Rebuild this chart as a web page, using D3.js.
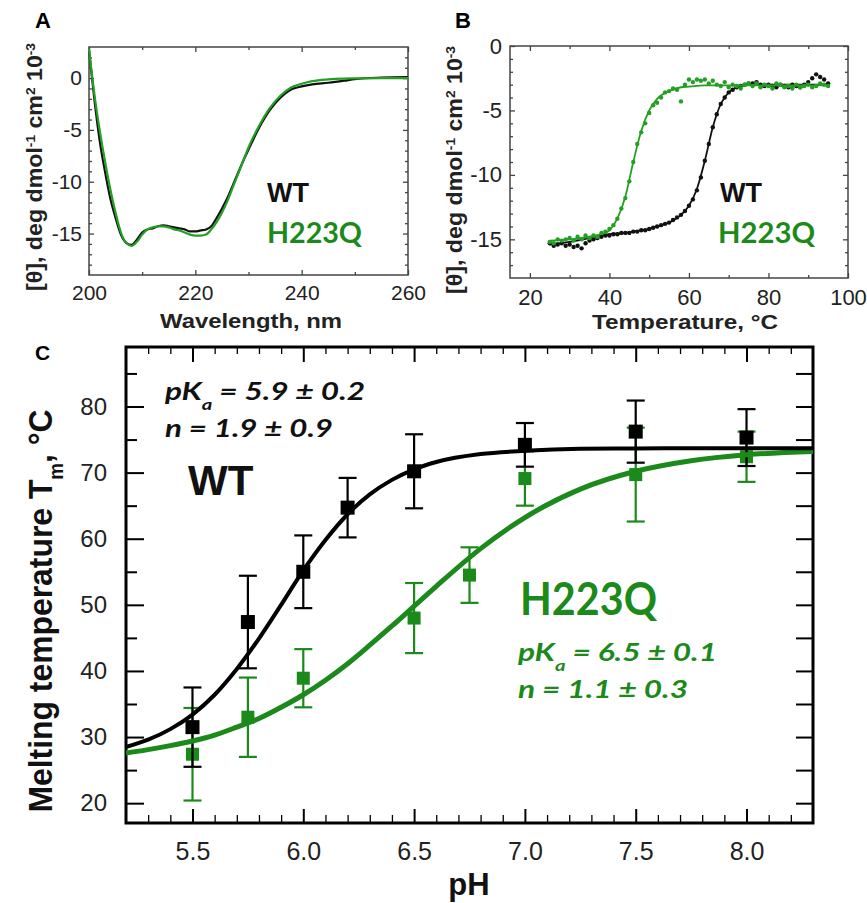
<!DOCTYPE html>
<html>
<head>
<meta charset="utf-8">
<script src="https://cdn.jsdelivr.net/npm/d3@7"></script>
<style>
body { margin: 0; background: #fff; }
svg { display: block; }
</style>
</head>
<body>
<div id="fig"></div>
<script>
// ---------- data: panel A (CD spectra) ----------
var wavelength = [200,201,202,203,204,205,206,207,208,209,210,211,212,213,214,215,216,217,218,219,220,
    221,222,223,224,225,226,227,228,229,230,232,234,236,238,240,242,245,248,250,255,260];
var cdWT = [2.7,-2.0,-6.0,-9.0,-11.6,-13.5,-15.1,-15.9,-16.1,-15.6,-14.9,-14.6,-14.5,-14.3,-14.2,-14.3,-14.4,-14.5,-14.6,-14.8,-14.8,
    -14.7,-14.6,-14.3,-13.5,-12.6,-11.6,-10.4,-9.2,-8.0,-6.9,-4.8,-3.1,-1.9,-1.1,-0.8,-0.6,-0.45,-0.25,-0.1,0.05,0.1];
var cdH223Q = [2.8,-1.5,-5.0,-8.0,-10.7,-13.0,-14.9,-15.9,-16.2,-15.8,-15.1,-14.6,-14.4,-14.3,-14.3,-14.4,-14.6,-14.7,-14.9,-15.1,-15.2,
    -15.2,-15.1,-14.6,-13.9,-13.0,-11.9,-10.6,-9.3,-8.0,-6.7,-4.6,-2.9,-1.7,-0.9,-0.55,-0.3,-0.13,-0.05,-0.03,0.0,0.0];

// ---------- data: panel B (thermal melts) ----------
var meltTemp = [25,26,27,28,29,30,31,32,33,34,35,36,37,38,39,40,41,42,43,44,45,46,47,48,49,50,51,52,53,54,
    55,56,57,58,59,60,61,62,63,64,65,66,67,68,69,70,71,72,73,74,75,76,77,78,79,80,81,82,83,84,
    85,86,87,88,89,90,91,92,93,94,95];
var meltH223Q = [-15.2,-15.3,-15.0,-15.1,-15.0,-14.9,-15.1,-14.8,-15.0,-14.7,
    -14.9,-14.7,-14.8,-14.5,-14.4,-14.2,-13.9,-13.4,-12.6,-11.8,
    -10.5,-9.0,-7.6,-6.7,-6.0,-5.2,-4.6,-4.4,-4.0,-3.6,
    -3.5,-3.3,-3.4,-4.3,-3.0,-2.6,-2.8,-2.6,-2.7,-2.6,
    -2.9,-2.7,-3.0,-3.1,-2.8,-3.2,-3.0,-3.1,-3.3,-3.0,
    -2.9,-3.1,-2.9,-3.2,-3.0,-3.1,-3.3,-2.9,-3.0,-3.2,
    -3.1,-3.3,-3.0,-3.2,-3.1,-3.0,-3.2,-3.1,-2.9,-3.0,-3.1];
var meltWT = [-15.3,-15.5,-15.4,-15.3,-15.5,-15.4,-15.6,-15.5,-15.7,-15.3,
    -15.1,-15.0,-14.9,-14.8,-14.7,-14.7,-14.6,-14.6,-14.5,-14.5,
    -14.5,-14.4,-14.4,-14.3,-14.3,-14.2,-14.1,-14.0,-13.9,-13.8,
    -13.7,-13.5,-13.3,-13.1,-12.8,-12.4,-11.9,-11.2,-10.2,-8.9,
    -7.6,-6.3,-5.3,-4.5,-4.0,-3.6,-3.4,-3.2,-3.1,-3.0,
    -2.9,-2.9,-2.8,-3.0,-3.1,-3.0,-3.1,-3.2,-3.0,-3.1,
    -3.2,-3.0,-3.1,-3.2,-3.0,-2.8,-2.5,-2.2,-2.4,-2.6,-2.9];
var fitTemp = [25,30,35,38,40,42,44,46,48,50,52,55,58,60,62,64,66,68,70,72,75,80,85,90,95];
var fitMeltH223Q = [-15.1,-15.0,-14.8,-14.6,-14.3,-13.4,-11.7,-9.0,-6.6,-5.0,-4.1,-3.5,-3.2,-3.15,-3.1,
    -3.05,-3.05,-3.05,-3.05,-3.05,-3.05,-3.05,-3.05,-3.05,-3.05];
var fitMeltWT = [-15.4,-15.2,-14.9,-14.7,-14.6,-14.55,-14.5,-14.4,-14.3,-14.2,-14.0,-13.7,-13.1,-12.4,-11.1,
    -8.9,-6.3,-4.5,-3.6,-3.2,-3.0,-3.0,-3.0,-3.0,-3.0];

// ---------- data: panel C (Tm vs pH) ----------
var phWT = [5.5, 5.75, 6.0, 6.2, 6.5, 7.0, 7.5, 8.0];
var tmWT = [31.5, 47.4, 55.0, 64.7, 70.2, 74.2, 76.2, 75.3];
var errWT = [6.0, 7.0, 5.5, 4.5, 5.6, 3.3, 4.7, 4.3];
var phH223Q = [5.5, 5.75, 6.0, 6.5, 6.75, 7.0, 7.5, 8.0];
var tmH223Q = [27.4, 33.0, 38.9, 48.0, 54.5, 69.1, 69.7, 72.4];
var errH223Q = [7.0, 6.0, 4.4, 5.3, 4.2, 4.1, 7.1, 3.8];
var fitPH = [5.2,5.3,5.4,5.5,5.6,5.7,5.8,5.9,6.0,6.1,6.2,6.3,6.4,6.5,6.6,6.8,7.0,7.25,7.5,7.75,8.0,8.3];
var fitTmWT = [28.5,29.6,31.2,33.4,36.4,40.3,44.9,50.0,55.2,59.8,63.7,66.7,68.9,70.5,71.6,72.8,73.3,73.6,73.65,73.7,73.7,73.7];
var fitTmH223Q = [27.6,28.1,28.7,29.4,30.3,31.5,32.8,34.5,36.4,38.6,41.1,43.9,46.8,49.8,52.8,58.5,63.2,67.5,70.2,71.8,72.7,73.2];

var xTicksA = [200, 220, 240, 260];
var xTicksB = [20, 40, 60, 80, 100];
var yTicksAB = [0, -5, -10, -15];
var xTicksC = [5.5, 6.0, 6.5, 7.0, 7.5, 8.0];
var yTicksC = [20, 30, 40, 50, 60, 70, 80];

var green = "#1b8a1b";
var sans = "'Liberation Sans', Arial, sans-serif";
var calib = "Lato, 'Open Sans', sans-serif";

var svg = d3.select("#fig").append("svg")
    .attr("width", 867)
    .attr("height", 903);

// draw one set of inward ticks with a d3 axis
function ticks(g, axisFn, scale, values, size, tx, ty, fmt, pad, color) {
    var ax = axisFn(scale).tickValues(values).tickSize(-size)
        .tickPadding(pad || 0).tickFormat(fmt || "");
    var sel = g.append("g")
        .attr("transform", "translate(" + tx + "," + ty + ")")
        .call(ax);
    sel.select(".domain").remove();
    sel.selectAll("line").attr("stroke", color).attr("stroke-width", size > 10 ? 2 : 1.3);
    sel.selectAll("text").attr("fill", "#222");
    return sel;
}

function minorOf(lo, hi, step, majors) {
    return d3.range(lo, hi + step / 2, step)
        .map(v => +v.toFixed(3))
        .filter(v => majors.indexOf(v) < 0);
}

function ylabelAB(x, y) {
    var t = svg.append("text")
        .attr("transform", "translate(" + x + "," + y + ") rotate(-90)")
        .attr("text-anchor", "middle")
        .attr("font-family", sans)
        .attr("font-weight", "bold")
        .attr("font-size", 22)
        .attr("fill", "#222")
        .attr("textLength", 248)
        .attr("lengthAdjust", "spacingAndGlyphs");
    t.append("tspan").text("[θ], deg dmol");
    t.append("tspan").attr("baseline-shift", "super").attr("font-size", 13).text("-1");
    t.append("tspan").text(" cm");
    t.append("tspan").attr("baseline-shift", "super").attr("font-size", 13).text("2");
    t.append("tspan").text(" 10");
    t.append("tspan").attr("baseline-shift", "super").attr("font-size", 13).text("-3");
}

// =================== panel A ===================
var xA = d3.scaleLinear().domain([200, 260]).range([89, 408]);
var yA = d3.scaleLinear().domain([-19, 3]).range([275, 47]);
var gA = svg.append("g");

var fmtInt = d => String(d);
ticks(gA, d3.axisBottom, xA, xTicksA, 5, 0, 275, fmtInt, 10, "#444")
    .attr("font-size", 21).attr("font-family", sans);
ticks(gA, d3.axisBottom, xA, [210, 230, 250], 3, 0, 275, null, 0, "#444");
ticks(gA, d3.axisTop, xA, xTicksA, 5, 0, 47, null, 0, "#444");
ticks(gA, d3.axisTop, xA, [210, 230, 250], 3, 0, 47, null, 0, "#444");
ticks(gA, d3.axisLeft, yA, yTicksAB, 5, 89, 0, fmtInt, 7, "#444")
    .attr("font-size", 21).attr("font-family", sans);
ticks(gA, d3.axisLeft, yA, minorOf(-18, 2, 1, yTicksAB), 3, 89, 0, null, 0, "#444");
ticks(gA, d3.axisRight, yA, yTicksAB, 5, 408, 0, null, 0, "#444");
ticks(gA, d3.axisRight, yA, minorOf(-18, 2, 1, yTicksAB), 3, 408, 0, null, 0, "#444");

gA.append("rect")
    .attr("x", 89).attr("y", 47)
    .attr("width", 408 - 89).attr("height", 275 - 47)
    .attr("fill", "none").attr("stroke", "#444").attr("stroke-width", 1.5);

var lineA = d3.line()
    .x((d, i) => xA(wavelength[i]))
    .y(d => yA(d))
    .curve(d3.curveMonotoneX);
gA.append("path").datum(cdWT)
    .attr("d", lineA).attr("fill", "none").attr("stroke", "#111").attr("stroke-width", 2.2);
gA.append("path").datum(cdH223Q)
    .attr("d", lineA).attr("fill", "none").attr("stroke", "#23a023").attr("stroke-width", 2.2);

gA.append("text").attr("x", 267).attr("y", 202)
    .attr("font-family", sans).attr("font-weight", "bold").attr("font-size", 27)
    .attr("fill", "#111").text("WT");
gA.append("text").attr("x", 267).attr("y", 243)
    .attr("font-family", calib).attr("font-weight", "bold").attr("font-size", 28)
    .attr("textLength", 95).attr("lengthAdjust", "spacingAndGlyphs")
    .attr("fill", green).text("H223Q");

gA.append("text").attr("x", 251).attr("y", 328)
    .attr("text-anchor", "middle")
    .attr("font-family", sans).attr("font-weight", "bold").attr("font-size", 21)
    .attr("textLength", 182).attr("lengthAdjust", "spacingAndGlyphs")
    .attr("fill", "#222").text("Wavelength, nm");
ylabelAB(42, 167);

svg.append("text").attr("x", 35).attr("y", 28)
    .attr("font-family", sans).attr("font-weight", "bold").attr("font-size", 22).text("A");

// =================== panel B ===================
var xB = d3.scaleLinear().domain([15, 100]).range([510, 848]);
var yB = d3.scaleLinear().domain([-18, 0]).range([278, 46]);
var gB = svg.append("g");

ticks(gB, d3.axisBottom, xB, xTicksB, 5, 0, 278, fmtInt, 11, "#444")
    .attr("font-size", 22).attr("font-family", sans);
ticks(gB, d3.axisBottom, xB, [30, 50, 70, 90], 3, 0, 278, null, 0, "#444");
ticks(gB, d3.axisTop, xB, xTicksB, 5, 0, 46, null, 0, "#444");
ticks(gB, d3.axisTop, xB, [30, 50, 70, 90], 3, 0, 46, null, 0, "#444");
ticks(gB, d3.axisLeft, yB, yTicksAB, 5, 510, 0, fmtInt, 8, "#444")
    .attr("font-size", 22).attr("font-family", sans);
ticks(gB, d3.axisLeft, yB, minorOf(-17, -1, 1, yTicksAB), 3, 510, 0, null, 0, "#444");
ticks(gB, d3.axisRight, yB, yTicksAB, 5, 848, 0, null, 0, "#444");
ticks(gB, d3.axisRight, yB, minorOf(-17, -1, 1, yTicksAB), 3, 848, 0, null, 0, "#444");

gB.append("rect")
    .attr("x", 510).attr("y", 46)
    .attr("width", 848 - 510).attr("height", 278 - 46)
    .attr("fill", "none").attr("stroke", "#444").attr("stroke-width", 1.5);

var fitLineB = d3.line()
    .x((d, i) => xB(fitTemp[i]))
    .y(d => yB(d))
    .curve(d3.curveMonotoneX);

gB.append("g").selectAll("circle")
    .data(meltWT)
    .enter().append("circle")
    .attr("cx", (d, i) => xB(meltTemp[i]))
    .attr("cy", d => yB(d))
    .attr("r", 2.2)
    .attr("fill", "#111");
gB.append("path").datum(fitMeltWT)
    .attr("d", fitLineB).attr("fill", "none").attr("stroke", "#111").attr("stroke-width", 1.8);

gB.append("g").selectAll("circle")
    .data(meltH223Q)
    .enter().append("circle")
    .attr("cx", (d, i) => xB(meltTemp[i]))
    .attr("cy", d => yB(d))
    .attr("r", 2.2)
    .attr("fill", "#23a023");
gB.append("path").datum(fitMeltH223Q)
    .attr("d", fitLineB).attr("fill", "none").attr("stroke", "#23a023").attr("stroke-width", 1.8);

gB.append("text").attr("x", 720).attr("y", 202)
    .attr("font-family", sans).attr("font-weight", "bold").attr("font-size", 27)
    .attr("fill", "#111").text("WT");
gB.append("text").attr("x", 718).attr("y", 243)
    .attr("font-family", calib).attr("font-weight", "bold").attr("font-size", 28)
    .attr("textLength", 97).attr("lengthAdjust", "spacingAndGlyphs")
    .attr("fill", green).text("H223Q");

gB.append("text").attr("x", 685).attr("y", 329)
    .attr("text-anchor", "middle")
    .attr("font-family", sans).attr("font-weight", "bold").attr("font-size", 21)
    .attr("textLength", 186).attr("lengthAdjust", "spacingAndGlyphs")
    .attr("fill", "#222").text("Temperature, °C");
ylabelAB(462, 170);

svg.append("text").attr("x", 455).attr("y", 28)
    .attr("font-family", sans).attr("font-weight", "bold").attr("font-size", 22).text("B");

// =================== panel C ===================
var xC = d3.scaleLinear().domain([5.2, 8.3]).range([126, 813]);
var yC = d3.scaleLinear().domain([17, 89]).range([823, 347]);
var gC = svg.append("g");

var minorPH = minorOf(5.3, 8.2, 0.1, xTicksC);
ticks(gC, d3.axisBottom, xC, xTicksC, 14, 0, 823, d3.format(".1f"), 19, "#000")
    .attr("font-size", 25).attr("font-family", sans);
ticks(gC, d3.axisBottom, xC, minorPH, 8, 0, 823, null, 0, "#000");
ticks(gC, d3.axisTop, xC, xTicksC, 15, 0, 347, null, 0, "#000");
ticks(gC, d3.axisTop, xC, minorPH, 7, 0, 347, null, 0, "#000");
ticks(gC, d3.axisLeft, yC, yTicksC, 18, 126, 0, fmtInt, 19, "#000")
    .attr("font-size", 24).attr("font-family", sans);
ticks(gC, d3.axisLeft, yC, [25, 35, 45, 55, 65, 75, 85], 11, 126, 0, null, 0, "#000");
ticks(gC, d3.axisRight, yC, d3.range(20, 90, 5), 17, 813, 0, null, 0, "#000");

gC.append("rect")
    .attr("x", 126).attr("y", 347)
    .attr("width", 813 - 126).attr("height", 823 - 347)
    .attr("fill", "none").attr("stroke", "#000").attr("stroke-width", 3);

function errorBars(g, ph, tm, err, color) {
    var bars = g.append("g").attr("stroke", color).attr("stroke-width", 2.2);
    bars.selectAll(".v").data(tm).enter().append("line")
        .attr("x1", (d, i) => xC(ph[i])).attr("x2", (d, i) => xC(ph[i]))
        .attr("y1", (d, i) => yC(d + err[i])).attr("y2", (d, i) => yC(d - err[i]));
    bars.selectAll(".t").data(tm).enter().append("line")
        .attr("x1", (d, i) => xC(ph[i]) - 9).attr("x2", (d, i) => xC(ph[i]) + 9)
        .attr("y1", (d, i) => yC(d + err[i])).attr("y2", (d, i) => yC(d + err[i]));
    bars.selectAll(".b").data(tm).enter().append("line")
        .attr("x1", (d, i) => xC(ph[i]) - 9).attr("x2", (d, i) => xC(ph[i]) + 9)
        .attr("y1", (d, i) => yC(d - err[i])).attr("y2", (d, i) => yC(d - err[i]));
}
function squares(g, ph, tm, color, s) {
    g.append("g").selectAll("rect").data(tm).enter().append("rect")
        .attr("x", (d, i) => xC(ph[i]) - s / 2)
        .attr("y", d => yC(d) - s / 2)
        .attr("width", s).attr("height", s)
        .attr("fill", color);
}

var fitLineC = d3.line()
    .x((d, i) => xC(fitPH[i]))
    .y(d => yC(d))
    .curve(d3.curveMonotoneX);

errorBars(gC, phH223Q, tmH223Q, errH223Q, green);
squares(gC, phH223Q, tmH223Q, green, 13);
errorBars(gC, phWT, tmWT, errWT, "#000");
gC.append("path").datum(fitTmH223Q)
    .attr("d", fitLineC).attr("fill", "none").attr("stroke", green).attr("stroke-width", 5);
gC.append("path").datum(fitTmWT)
    .attr("d", fitLineC).attr("fill", "none").attr("stroke", "#000").attr("stroke-width", 4);
squares(gC, phWT, tmWT, "#000", 14);

function fitText(x, y, pka, n, color, w1, w2) {
    var t = gC.append("text").attr("x", x).attr("y", y)
        .attr("font-family", calib).attr("font-weight", "bold").attr("font-style", "italic")
        .attr("font-size", 25).attr("fill", color)
        .attr("textLength", w1).attr("lengthAdjust", "spacingAndGlyphs");
    t.append("tspan").text("pK");
    t.append("tspan").attr("baseline-shift", "sub").attr("font-size", 16).text("a");
    t.append("tspan").text(" = " + pka);
    gC.append("text").attr("x", x).attr("y", y + 37)
        .attr("font-family", calib).attr("font-weight", "bold").attr("font-style", "italic")
        .attr("font-size", 25).attr("fill", color)
        .attr("textLength", w2).attr("lengthAdjust", "spacingAndGlyphs")
        .text("n = " + n);
}
fitText(165, 400, "5.9 ± 0.2", "1.9 ± 0.9", "#111", 200, 168);
fitText(518, 661, "6.5 ± 0.1", "1.1 ± 0.3", green, 199, 170);

gC.append("text").attr("x", 188).attr("y", 495)
    .attr("font-family", sans).attr("font-weight", "bold").attr("font-size", 42)
    .attr("fill", "#111").text("WT");
gC.append("text").attr("x", 520).attr("y", 615)
    .attr("font-family", calib).attr("font-weight", "bold").attr("font-size", 45)
    .attr("textLength", 137).attr("lengthAdjust", "spacingAndGlyphs")
    .attr("fill", green).text("H223Q");

var yl = gC.append("text")
    .attr("transform", "translate(52,611) rotate(-90)")
    .attr("text-anchor", "middle")
    .attr("font-family", sans).attr("font-weight", "bold").attr("font-size", 34)
    .attr("textLength", 403).attr("lengthAdjust", "spacingAndGlyphs")
    .attr("fill", "#111");
yl.append("tspan").text("Melting temperature T");
yl.append("tspan").attr("baseline-shift", "sub").attr("font-size", 20).text("m");
yl.append("tspan").text(", °C");

gC.append("text").attr("x", 469).attr("y", 895)
    .attr("text-anchor", "middle")
    .attr("font-family", sans).attr("font-weight", "bold").attr("font-size", 31)
    .attr("fill", "#111").text("pH");

svg.append("text").attr("x", 35).attr("y", 360)
    .attr("font-family", sans).attr("font-weight", "bold").attr("font-size", 21).text("C");
</script>
</body>
</html>
